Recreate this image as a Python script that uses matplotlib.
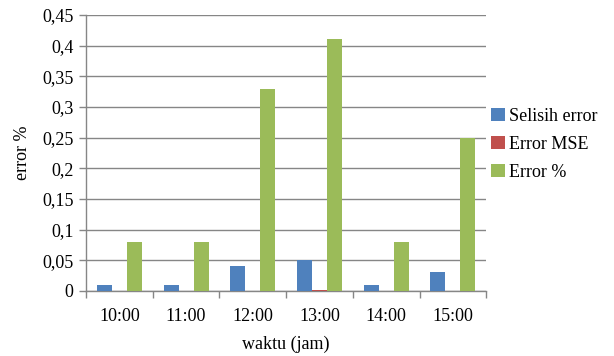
"""Grouped bar chart of the error values per hour."""

from matplotlib import pyplot
from matplotlib.ticker import FuncFormatter, MultipleLocator
import numpy

# Data per hour.
jam = ['10:00', '11:00', '12:00', '13:00', '14:00', '15:00']
selisih_error = [0.01, 0.01, 0.04, 0.05, 0.01, 0.03]
error_mse = [0.0, 0.0, 0.0, 0.001, 0.0, 0.0]
error_persen = [0.08, 0.08, 0.33, 0.41, 0.08, 0.25]

series = [('Selisih error', selisih_error, '#4F81BD'),
          ('Error MSE', error_mse, '#C0504D'),
          ('Error %', error_persen, '#9BBB59')]

pyplot.rc('font', family='Liberation Serif', size=13)
fig = pyplot.figure(figsize=(6.14, 3.56), dpi=100)
ax = fig.add_axes([0.140, 0.183, 0.652, 0.775])

x = numpy.arange(len(jam))
width = 0.225
for i, (label, values, color) in enumerate(series):
    ax.bar(x + (i - 1) * width, values, width, color=color, label=label,
           zorder=3)

# Axes styling.
gray = '#868686'
ax.set_xlim(-0.5, len(jam) - 0.5)
ax.set_ylim(0.0, 0.45)
ax.yaxis.set_major_locator(MultipleLocator(0.05))
ax.yaxis.set_major_formatter(
    FuncFormatter(lambda v, _: ('%g' % round(v, 2)).replace('.', ',')))
ax.grid(axis='y', color=gray, linewidth=1.0, zorder=0)
ax.set_xticks(x)
ax.set_xticklabels(jam)
ax.set_xticks(numpy.arange(-0.5, len(jam)), minor=True)
ax.tick_params(axis='x', which='major', length=0, pad=12)
ax.tick_params(axis='x', which='minor', length=5, color=gray, width=1.0)
ax.tick_params(axis='y', length=5, color=gray, width=1.0, pad=4)
for side in ('top', 'right'):
    ax.spines[side].set_visible(False)
for side in ('left', 'bottom'):
    ax.spines[side].set_color(gray)
    ax.spines[side].set_linewidth(1.0)

ax.set_xlabel('waktu (jam)', labelpad=8)
ax.set_ylabel('error %', labelpad=8)

fig.legend(loc='center left', bbox_to_anchor=(0.788, 0.595), frameon=False,
           handlelength=0.75, handleheight=0.75, handletextpad=0.25,
           labelspacing=0.6, borderaxespad=0.0)

fig.savefig('out.png', dpi=100)
